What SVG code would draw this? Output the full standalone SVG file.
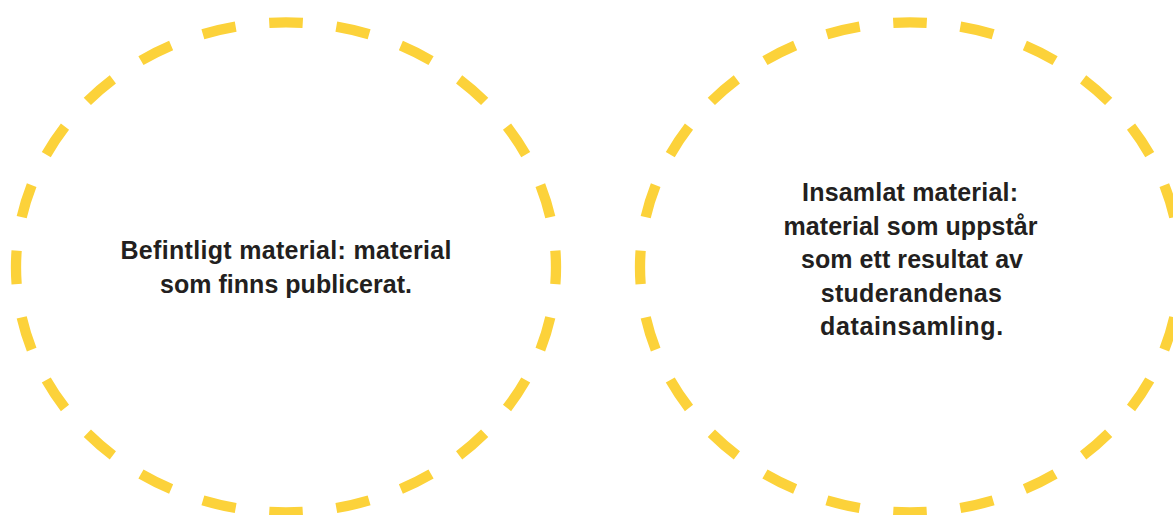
<svg xmlns="http://www.w3.org/2000/svg" width="1173" height="515" viewBox="0 0 1173 515">
<style>
.ring{fill:none;stroke:#FCD23A;stroke-width:10.3;stroke-dasharray:0.5 0.5;stroke-dashoffset:0.25}
.lbl{font-family:"Liberation Sans","DejaVu Sans",Arial,sans-serif;font-weight:bold;font-size:25px;fill:#231F20;text-anchor:middle}
</style>
<rect width="1173" height="515" fill="#ffffff"/>
<g id="node-befintligt">
<path class="ring" pathLength="24" d="M286,22.3 A270,245 0 1 1 286,512.3 A270,245 0 1 1 286,22.3 Z"/>
<text class="lbl" lengthAdjust="spacingAndGlyphs"><tspan x="286" y="259.3" textLength="331">Befintligt material: material</tspan></text>
<text class="lbl" lengthAdjust="spacingAndGlyphs"><tspan x="286" y="293.3" textLength="252">som finns publicerat.</tspan></text>
</g>
<g id="node-insamlat">
<path class="ring" pathLength="24" d="M910,22.3 A270,245 0 1 1 910,512.3 A270,245 0 1 1 910,22.3 Z"/>
<text class="lbl" lengthAdjust="spacingAndGlyphs"><tspan x="910" y="201" textLength="216">Insamlat material:</tspan></text>
<text class="lbl" lengthAdjust="spacingAndGlyphs"><tspan x="910.5" y="234.5" textLength="254">material som uppstår</tspan></text>
<text class="lbl" lengthAdjust="spacingAndGlyphs"><tspan x="912" y="268" textLength="222">som ett resultat av</tspan></text>
<text class="lbl" lengthAdjust="spacingAndGlyphs"><tspan x="911.3" y="301.5" textLength="181">studerandenas</tspan></text>
<text class="lbl" lengthAdjust="spacingAndGlyphs"><tspan x="911.6" y="335" textLength="183">datainsamling.</tspan></text>
</g>
<g id="connectors"></g>
</svg>
